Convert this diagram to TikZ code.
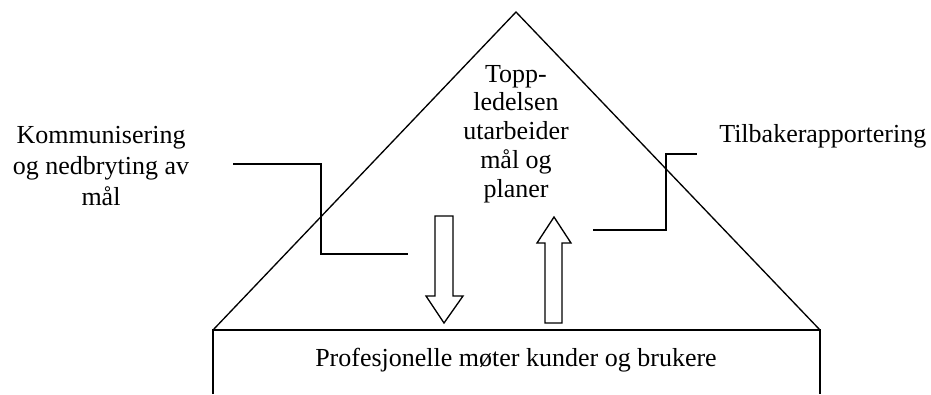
\documentclass[tikz,border=0pt]{standalone}
\usepackage{fontspec}
\setmainfont{Liberation Serif}
\usepackage{tikz}
\usetikzlibrary{positioning,calc}
\tikzset{
  outline/.style={draw=black,line width=1pt,line join=miter},
  blockarrow/.style={draw=black,fill=white,line width=1pt},
  leader/.style={draw=black,line width=1pt},
  label text/.style={align=center,inner sep=0pt}
}

\begin{document}
\begin{tikzpicture}[x=.75pt,y=-.75pt,every node/.style={font=\fontsize{19.5}{23}\selectfont}]
    \useasboundingbox (0,0) rectangle (931,394);
    % roof and house body
    \draw[outline] (213,330)--(516,12)--(820,330);
    \draw[outline] (213,394)--(213,330)--(820,330)--(820,394);
    % texts
    \node[label text,font=\fontsize{19.5}{21.6}\selectfont] (topp) at (516,134) {Topp-\\ledelsen\\utarbeider\\mål og\\planer};
    \node[label text,font=\fontsize{19.5}{23.6}\selectfont] (komm) at (101,166) {Kommunisering\\og nedbryting av\\mål};
    \node[inner sep=0pt,anchor=base west] (tilbake) at (719,142) {Tilbakerapportering};
    \node[inner sep=0pt,anchor=base] (prof) at (516,366) {Profesjonelle møter kunder og brukere};
    % leader lines
    \coordinate (kommend) at (233,164);
    \coordinate (kommtip) at (408,254);
    \draw[leader] (kommend)-|(321,254)--(kommtip);
    \coordinate (tilbend) at (697,154);
    \coordinate (tilbtip) at (593,230);
    \draw[leader] (tilbtip)-|(666,154)--(tilbend);
    % block arrows
    \draw[blockarrow] (435,216)--(453,216)--(453,296)--(463,296)--(444,323)
      --(426,296)--(435,296)--cycle;
    \draw[blockarrow] (545,323)--(562,323)--(562,243)--(571,243)--(554,217)
      --(537,243)--(545,243)--cycle;
  \end{tikzpicture}
\end{document}
